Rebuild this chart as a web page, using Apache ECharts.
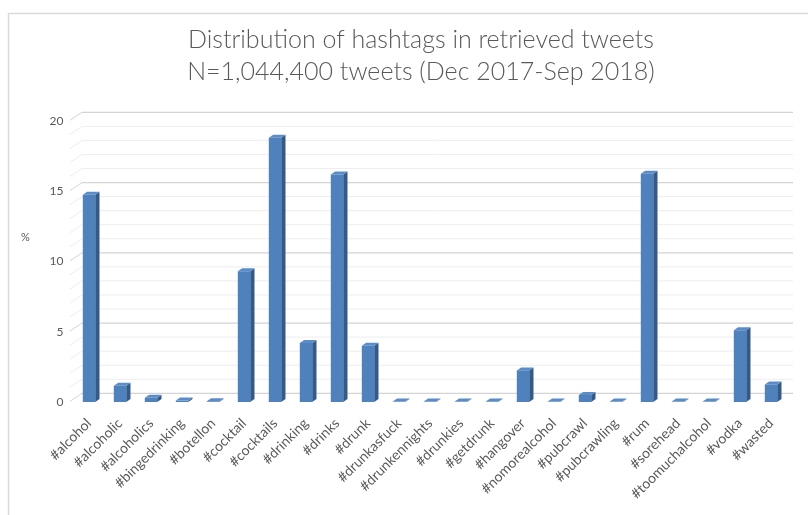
<!DOCTYPE html>
<html>
<head>
<meta charset="utf-8">
<script src="https://cdn.jsdelivr.net/npm/echarts@6/dist/echarts.min.js"></script>
<style>
html,body{margin:0;padding:0;background:#fff;}
#chart{width:808px;height:515px;}
</style>
</head>
<body>
<div id="chart"></div>
<script>
// ---- data ----
const categories = ['#alcohol','#alcoholic','#alcoholics','#bingedrinking','#botellon','#cocktail','#cocktails','#drinking','#drinks','#drunk','#drunkasfuck','#drunkennights','#drunkies','#getdrunk','#hangover','#nomorealcohol','#pubcrawl','#pubcrawling','#rum','#sorehead','#toomuchalcohol','#vodka','#wasted'];
const percentValues = [14.75, 1.15, 0.3, 0.1, 0.05, 9.3, 18.8, 4.2, 16.2, 4.0, 0.03, 0.03, 0.03, 0.03, 2.25, 0.03, 0.5, 0.03, 16.25, 0.03, 0.03, 5.1, 1.25];
const titleLines = ['Distribution of hashtags in retrieved tweets', 'N=1,044,400 tweets (Dec 2017-Sep 2018)'];
const yTicks = [0, 5, 10, 15, 20];
const gridValues = [0,1,2,3,4,5,6,7,8,9,10,11,12,13,14,15,16,17,18,19,20];

const chart = echarts.init(document.getElementById('chart'), null, {renderer: 'canvas'});

const FRONT = '#4f81bd', SIDE = '#355a88', TOP = '#5b8cc8';
const DX = 4.3, DY = 3;
const WALL_DX = 12, WALL_DY = 8;
const MAJOR = '#d4d4d4', MINOR = '#ededed';

function barItem(params, api) {
  const idx = api.value(0);
  const v = api.value(1);
  const base = api.coord([idx, 0]);
  const top = api.coord([idx, v]);
  const bw = api.size([1, 0])[0] * 0.4;
  const xl = base[0] - bw / 2, xr = base[0] + bw / 2;
  const yb = base[1], yt = top[1];
  return {
    type: 'group',
    children: [
      {type: 'polygon', shape: {points: [[xr, yt], [xr + DX, yt - DY], [xr + DX, yb - DY], [xr, yb]]}, style: {fill: SIDE}},
      {type: 'polygon', shape: {points: [[xl, yt], [xl + DX, yt - DY], [xr + DX, yt - DY], [xr, yt]]}, style: {fill: TOP}},
      {type: 'rect', shape: {x: xl, y: yt, width: bw, height: yb - yt}, style: {fill: FRONT}}
    ]
  };
}

function wallItem(params, api) {
  const v = api.value(1);
  const p = api.coord([0, v]);
  const cs = params.coordSys;
  const color = (v % 5 === 0) ? MAJOR : MINOR;
  return {
    type: 'group',
    children: [
      {type: 'line', shape: {x1: cs.x - WALL_DX, y1: p[1] + WALL_DY, x2: cs.x, y2: p[1]}, style: {stroke: color, lineWidth: 1}},
      {type: 'line', shape: {x1: cs.x, y1: p[1], x2: cs.x + cs.width, y2: p[1]}, style: {stroke: color, lineWidth: (v % 5 === 0) ? 1.3 : 1}}
    ]
  };
}

const option = {
  backgroundColor: '#fff',
  animation: false,
  title: {
    text: titleLines.join('\n'),
    left: 416,
    top: 19,
    textAlign: 'center',
    textStyle: {fontFamily: 'Lato', fontWeight: 300, fontSize: 25, color: '#595959', lineHeight: 32}
  },
  graphic: [
    {type: 'rect', left: 6, top: 11, shape: {width: 900, height: 600}, style: {fill: 'none', stroke: '#d9d9d9', lineWidth: 1.5}, z: -10},
    {type: 'text', left: 21, top: 232, style: {text: '%', fill: '#595959', font: '11px Lato'}}
  ],
  grid: [
    {left: 73.5, right: 21.5, top: 121, height: 281},
    {left: 82, right: 15, top: 112.3, height: 281}
  ],
  xAxis: [
    {type: 'category', gridIndex: 0, data: categories,
      axisLine: {show: false}, axisTick: {show: false},
      axisLabel: {rotate: 45, margin: 19, interval: 0, color: '#595959', fontFamily: 'Lato', fontSize: 14}},
    {type: 'value', gridIndex: 1, min: 0, max: 1, show: false}
  ],
  yAxis: [
    {type: 'value', gridIndex: 0, min: 0, max: 20, interval: 5,
      axisLine: {show: false}, axisTick: {show: false}, splitLine: {show: false},
      axisLabel: {margin: 10, color: '#595959', fontFamily: 'Lato', fontSize: 12, padding: [3, 0, 0, 0]}},
    {type: 'value', gridIndex: 1, min: 0, max: 20, interval: 1, show: false, splitLine: {show: false}}
  ],
  series: [
    {type: 'custom', xAxisIndex: 1, yAxisIndex: 1, renderItem: wallItem, z: 1,
      data: gridValues.map(v => [0, v]), silent: true},
    {type: 'custom', xAxisIndex: 0, yAxisIndex: 0, renderItem: barItem, z: 5,
      data: percentValues.map((v, i) => [i, v])}
  ]
};
chart.setOption(option);
</script>
</body>
</html>
